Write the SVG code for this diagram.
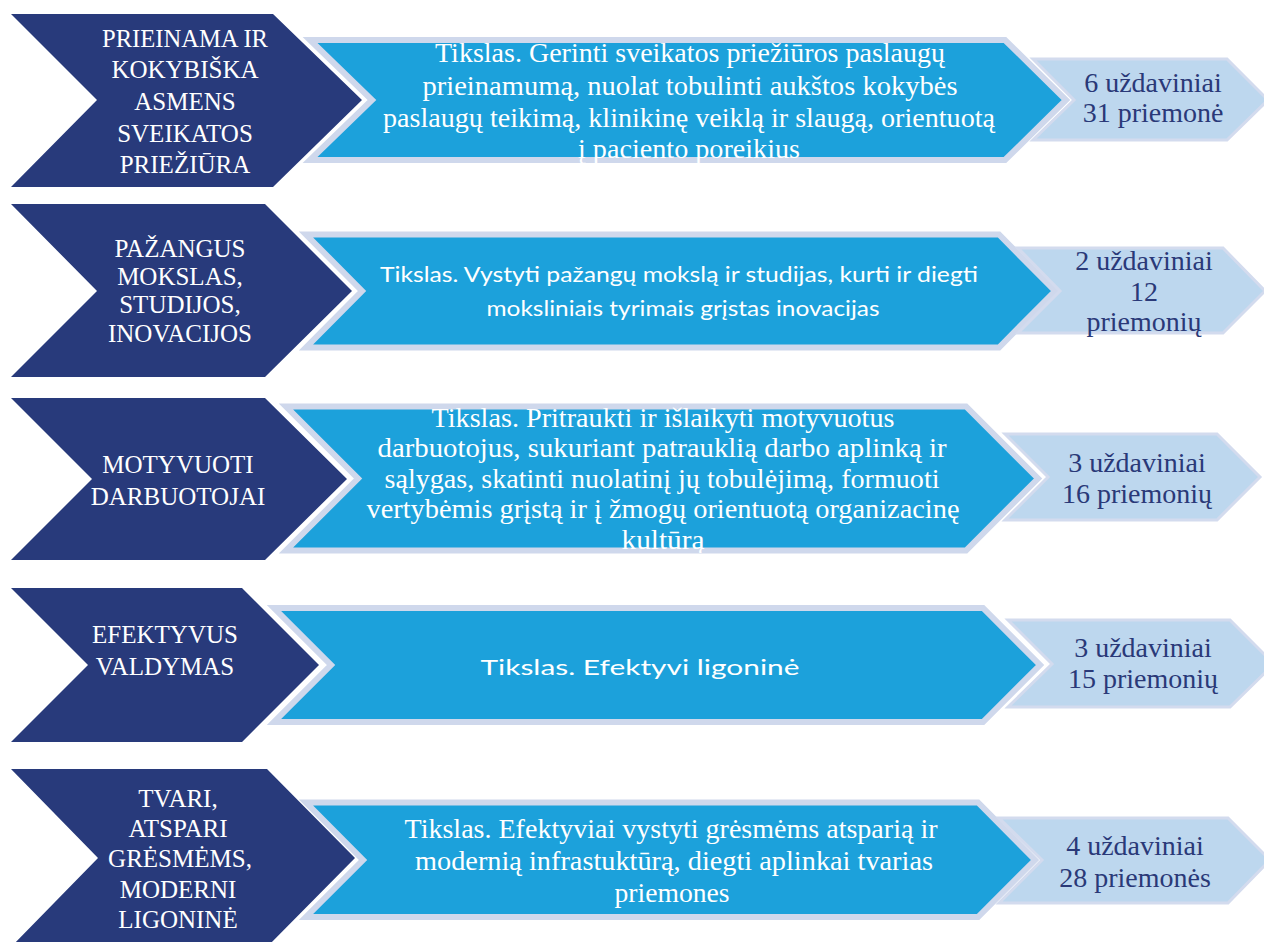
<svg xmlns="http://www.w3.org/2000/svg" width="1264" height="942" viewBox="0 0 1264 942">
<style>
.dark{fill:#283A7B}
.mid{fill:#1CA1DB;stroke:#CFD8EC;stroke-width:6;stroke-linejoin:miter}
.lite{fill:#BDD7EE;stroke:#D3DBEE;stroke-width:3;stroke-linejoin:miter}
.td{font-family:"Liberation Serif",serif;font-size:25px;fill:#FFFFFF;text-anchor:middle}
.tm{font-family:"Liberation Serif",serif;font-size:28px;fill:#FFFFFF;text-anchor:middle}
.ts{font-family:Lato,"Liberation Sans",sans-serif;font-size:22px;fill:#FFFFFF;text-anchor:middle}
.tr{font-family:"Liberation Serif",serif;font-size:28px;fill:#2A3978;text-anchor:middle}
</style>
<defs>
<clipPath id="clip1"><rect x="300" y="30" width="780" height="133"/></clipPath>
<clipPath id="clip3"><rect x="280" y="400" width="780" height="153"/></clipPath>
</defs>
<rect width="1264" height="942" fill="#FFFFFF"/>
<g id="connectors"/>

<!-- Row 1 -->
<g id="area1">
<polygon class="dark" points="11,14 273,14 362,100 273,187 11,187 97,100"/>
<text class="td" x="185" y="47" textLength="166" lengthAdjust="spacingAndGlyphs">PRIEINAMA IR</text>
<text class="td" x="185" y="78">KOKYBIŠKA</text>
<text class="td" x="185" y="110">ASMENS</text>
<text class="td" x="185" y="142">SVEIKATOS</text>
<text class="td" x="185" y="173">PRIEŽIŪRA</text>
</g>
<g id="goal1">
<polygon class="mid" points="310,40 1005,40 1066,100 1005,160 310,160 372,100"/>
<g clip-path="url(#clip1)">
<text class="tm" x="690" y="62" textLength="510" lengthAdjust="spacingAndGlyphs">Tikslas. Gerinti sveikatos priežiūros paslaugų</text>
<text class="tm" x="690" y="95" textLength="535" lengthAdjust="spacingAndGlyphs">prieinamumą, nuolat tobulinti aukštos kokybės</text>
<text class="tm" x="689" y="127" textLength="612" lengthAdjust="spacingAndGlyphs">paslaugų teikimą, klinikinę veiklą ir slaugą, orientuotą</text>
<text class="tm" x="689" y="158" textLength="222" lengthAdjust="spacingAndGlyphs">į paciento poreikius</text>
</g>
</g>
<g id="count1">
<polygon class="lite" points="1033,59 1227,59 1268,100 1227,140 1033,140 1074,100"/>
<text class="tr" x="1153" y="92">6 uždaviniai</text>
<text class="tr" x="1153" y="122">31 priemonė</text>
</g>

<!-- Row 2 -->
<g id="area2">
<polygon class="dark" points="11,204 265,204 352,291 265,377 11,377 97,291"/>
<text class="td" x="180" y="257">PAŽANGUS</text>
<text class="td" x="180" y="285">MOKSLAS,</text>
<text class="td" x="180" y="313">STUDIJOS,</text>
<text class="td" x="180" y="342">INOVACIJOS</text>
</g>
<g id="goal2">
<polygon class="mid" points="306,234.5 999,234.5 1055,291 999,347.5 306,347.5 362,291"/>
<text class="ts" x="679" y="282" textLength="598" lengthAdjust="spacingAndGlyphs">Tikslas. Vystyti pažangų mokslą ir studijas, kurti ir diegti</text>
<text class="ts" x="683" y="316" textLength="393" lengthAdjust="spacingAndGlyphs">moksliniais tyrimais grįstas inovacijas</text>
</g>
<g id="count2">
<polygon class="lite" points="1018,248 1223,248 1265,291 1223,333 1018,333 1060,291"/>
<text class="tr" x="1144" y="270">2 uždaviniai</text>
<text class="tr" x="1144" y="301">12</text>
<text class="tr" x="1144" y="331">priemonių</text>
</g>

<!-- Row 3 -->
<g id="area3">
<polygon class="dark" points="11,398 265,398 347,479 265,560 11,560 92,479"/>
<text class="td" x="178" y="473">MOTYVUOTI</text>
<text class="td" x="178" y="505">DARBUOTOJAI</text>
</g>
<g id="goal3">
<polygon class="mid" points="286,406.5 966,406.5 1038,478.5 966,550.5 286,550.5 358,478.5"/>
<g clip-path="url(#clip3)">
<text class="tm" x="663" y="427" textLength="463" lengthAdjust="spacingAndGlyphs">Tikslas. Pritraukti ir išlaikyti motyvuotus</text>
<text class="tm" x="662" y="457" textLength="569" lengthAdjust="spacingAndGlyphs">darbuotojus, sukuriant patrauklią darbo aplinką ir</text>
<text class="tm" x="662" y="488" textLength="555" lengthAdjust="spacingAndGlyphs">sąlygas, skatinti nuolatinį jų tobulėjimą, formuoti</text>
<text class="tm" x="663" y="518" textLength="593" lengthAdjust="spacingAndGlyphs">vertybėmis grįstą ir į žmogų orientuotą organizacinę</text>
<text class="tm" x="663" y="549" textLength="83" lengthAdjust="spacingAndGlyphs">kultūrą</text>
</g>
</g>
<g id="count3">
<polygon class="lite" points="1005,434 1217,434 1260,477 1217,520 1005,520 1048,477"/>
<text class="tr" x="1137" y="472">3 uždaviniai</text>
<text class="tr" x="1137" y="503">16 priemonių</text>
</g>

<!-- Row 4 -->
<g id="area4">
<polygon class="dark" points="11,588 242,588 319,665 242,742 11,742 88,665"/>
<text class="td" x="165" y="643">EFEKTYVUS</text>
<text class="td" x="165" y="675">VALDYMAS</text>
</g>
<g id="goal4">
<polygon class="mid" points="274,608 983,608 1040,665 983,722 274,722 331,665"/>
<text class="ts" x="640" y="675" textLength="319" lengthAdjust="spacingAndGlyphs">Tikslas. Efektyvi ligoninė</text>
</g>
<g id="count4">
<polygon class="lite" points="1008,620 1230,620 1274,664 1230,707 1008,707 1052,664"/>
<text class="tr" x="1143" y="657">3 uždaviniai</text>
<text class="tr" x="1143" y="688">15 priemonių</text>
</g>

<!-- Row 5 -->
<g id="area5">
<polygon class="dark" points="11,769 267,769 355,858 267,947 11,947 98,858"/>
<text class="td" x="178" y="807">TVARI,</text>
<text class="td" x="178" y="837">ATSPARI</text>
<text class="td" x="180" y="867">GRĖSMĖMS,</text>
<text class="td" x="178" y="898">MODERNI</text>
<text class="td" x="178" y="928">LIGONINĖ</text>
</g>
<g id="goal5">
<polygon class="mid" points="306,802.5 978,802.5 1035,860 978,917 306,917 363,860"/>
<text class="tm" x="671" y="838" textLength="533" lengthAdjust="spacingAndGlyphs">Tikslas. Efektyviai vystyti grėsmėms atsparią ir</text>
<text class="tm" x="674" y="870" textLength="518" lengthAdjust="spacingAndGlyphs">modernią infrastuktūrą, diegti aplinkai tvarias</text>
<text class="tm" x="672" y="902" textLength="115" lengthAdjust="spacingAndGlyphs">priemones</text>
</g>
<g id="count5">
<polygon class="lite" points="999,818 1228,818 1270,860 1228,903 999,903 1042,860"/>
<text class="tr" x="1135" y="855">4 uždaviniai</text>
<text class="tr" x="1135" y="887">28 priemonės</text>
</g>
</svg>
